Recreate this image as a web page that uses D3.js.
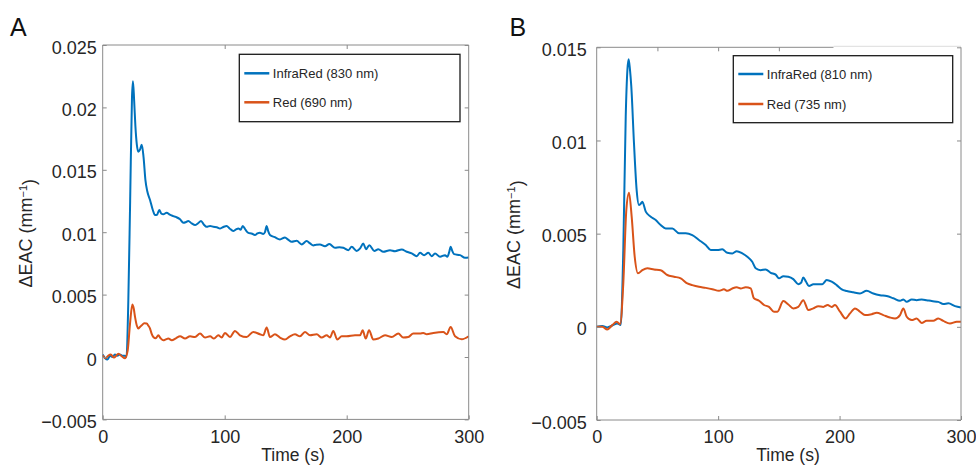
<!DOCTYPE html>
<html>
<head>
<meta charset="utf-8">
<script src="https://cdn.jsdelivr.net/npm/d3@7"></script>
<style>
  body { margin: 0; background: #fff; }
  text { font-family: "Liberation Sans", Arial, sans-serif; fill: #262626; }
</style>
</head>
<body>
<div id="chart"></div>
<script>
// ---- data (time in s, value in mm^-1) ----
const irA = [[0,0.0002],[2,-0.0001],[4,-0.0002],[6,0.0001],[8,0],[10,0.0002],[12,0.0001],[14,0.0002],[16,0.0001],[18,0.0001],[19.5,0],[21,0.0045],[22.5,0.0125],[24,0.0208],[24.8,0.0221],[25.8,0.0205],[26.8,0.0185],[28,0.0170],[29.2,0.01645],[30.5,0.0166],[32,0.0170],[33.5,0.0160],[35,0.0142],[36.5,0.0133],[38.8,0.01258],[41,0.0118],[42.9,0.01137],[44.5,0.0114],[46.4,0.01177],[48,0.0115],[49.7,0.01143],[52.4,0.01156],[55,0.0114],[57.9,0.01129],[60.5,0.0112],[63.4,0.01103],[66.1,0.01076],[68,0.0108],[70.2,0.0109],[73,0.0107],[75.7,0.01057],[78,0.0107],[80.6,0.0109],[83,0.0106],[85.2,0.01043],[88,0.0105],[90.7,0.01043],[93.5,0.0104],[96.1,0.0103],[98.5,0.0104],[101.6,0.0105],[104,0.0103],[107,0.0101],[109,0.0102],[111.2,0.0103],[113,0.0102],[114.8,0.0105],[117,0.0102],[119.4,0.00995],[122,0.0099],[124.8,0.00977],[126.8,0.0099],[128.9,0.00995],[131.6,0.00985],[133,0.0100],[134.4,0.0105],[135.6,0.0101],[137.1,0.00977],[141,0.0096],[145.3,0.00942],[149.4,0.00958],[152,0.0094],[154.9,0.00923],[159,0.00931],[163.1,0.00902],[167.2,0.00929],[170,0.0091],[172.6,0.00894],[175,0.0090],[178.1,0.00902],[182.2,0.00888],[185.8,0.00905],[190.4,0.00875],[194,0.0088],[197.2,0.00875],[201.3,0.00856],[204.1,0.00883],[208.2,0.0085],[211,0.0087],[213.6,0.0091],[215.8,0.00864],[218.5,0.00896],[222.6,0.0085],[225.9,0.00864],[230,0.00843],[235.5,0.00856],[239.6,0.00848],[245.1,0.00862],[249.2,0.00843],[253.3,0.0083],[257.4,0.00808],[260.1,0.00835],[263.4,0.00816],[266.9,0.00835],[269.7,0.00808],[272.4,0.0083],[276.5,0.00803],[280.6,0.00816],[282.5,0.00803],[284,0.0084],[285.2,0.00883],[286.5,0.0085],[288,0.00824],[292.9,0.00816],[297,0.00795],[300,0.00798]];

const redA = [[0,0.00014],[2.3,-0.0001],[4.5,0.0001],[6.6,0.0002],[9.3,-0.00005],[11,0.0001],[12.8,0.00027],[15.6,0.00006],[18.3,-0.0001],[20.5,0.00054],[22.4,0.00268],[24.3,0.0042],[25.4,0.0039],[26.5,0.00321],[28,0.0025],[29.2,0.00228],[30.5,0.0024],[32,0.00254],[34,0.0027],[36,0.00268],[37.5,0.0025],[38.8,0.00228],[40,0.0019],[41.5,0.0016],[43.5,0.0015],[45.6,0.00174],[47.5,0.0015],[49.7,0.00134],[51.5,0.0014],[53.8,0.00148],[56.6,0.00134],[60,0.0015],[63.4,0.00166],[67.5,0.00148],[71.6,0.00166],[75.7,0.0016],[79.8,0.00188],[83.9,0.00156],[88,0.00166],[91.2,0.00148],[94.8,0.00174],[97.5,0.00156],[100.2,0.00193],[104.3,0.0016],[108.4,0.00209],[112.5,0.00174],[118,0.0016],[123.4,0.00201],[128.9,0.00182],[131.6,0.00174],[134.4,0.00236],[137.1,0.0016],[141.2,0.00182],[145.3,0.00156],[149.4,0.0014],[153.5,0.00166],[157.6,0.00182],[161.7,0.00166],[165.8,0.00201],[169.9,0.00174],[175.4,0.00182],[179.5,0.00156],[183.6,0.00174],[186.3,0.00156],[189,0.00209],[192.3,0.0014],[195.9,0.00166],[200,0.00166],[206.8,0.00174],[210.9,0.00174],[213.1,0.00214],[215.6,0.00148],[218.3,0.00214],[221.8,0.0014],[225.9,0.00148],[231.4,0.00174],[236.9,0.0016],[242.3,0.00188],[246.4,0.00156],[250.5,0.0016],[254.6,0.00188],[260.1,0.00188],[262.8,0.00193],[265.6,0.00182],[271,0.00193],[279.2,0.00201],[282,0.00182],[285.2,0.00241],[288.8,0.00166],[294.3,0.00142],[300,0.00166]];

const irB = [[0,0],[4.6,0.00004],[8.7,-0.00003],[12.8,0.00007],[17,0.00018],[19.8,0.0001],[21.9,0.00412],[23.9,0.01128],[25.3,0.0138],[26.3,0.01436],[27.4,0.0138],[28.5,0.01289],[30.7,0.00985],[32.9,0.00734],[34.8,0.00654],[36.2,0.0066],[37.6,0.00671],[40.4,0.00618],[44.5,0.00591],[48.6,0.00573],[52.7,0.00546],[56.8,0.00528],[62.3,0.00528],[67.8,0.00502],[73.3,0.00502],[78.7,0.00492],[84.2,0.00466],[89.8,0.00439],[93.9,0.00412],[99.3,0.00412],[103.4,0.00416],[107.6,0.00397],[111.7,0.00394],[115.3,0.00406],[119.9,0.00394],[124,0.00376],[128.1,0.00349],[130.9,0.00314],[135,0.00304],[139.1,0.00308],[143.3,0.0029],[147.4,0.0028],[150.1,0.0026],[153.7,0.00272],[157.8,0.00269],[161.9,0.00256],[166,0.00229],[168.3,0.00236],[170.1,0.00265],[172.4,0.00242],[174.8,0.00219],[178.4,0.00228],[182.5,0.00229],[185.8,0.00229],[189.4,0.00251],[193.5,0.00242],[197.6,0.00224],[201.8,0.00201],[205.9,0.00192],[211.3,0.00185],[216.8,0.00179],[222.3,0.00193],[227.8,0.00179],[233.3,0.0017],[238.8,0.00165],[244.3,0.00153],[249.8,0.0014],[252.5,0.00147],[255.3,0.00134],[259.4,0.00147],[263.5,0.00143],[267.6,0.00147],[271.7,0.00143],[275.9,0.00138],[281.3,0.00134],[285.4,0.00122],[289.6,0.00126],[295.1,0.00111],[300,0.00104]];

const redB = [[0,0],[4.6,0],[8.7,-0.00014],[12.8,0.00009],[16.5,0.00027],[19.3,0.00014],[21.9,0.00233],[24.4,0.00627],[26.6,0.0072],[28.8,0.00591],[31.3,0.00376],[34,0.00287],[37.6,0.00304],[41.7,0.00314],[47.2,0.00308],[52.7,0.00304],[58.1,0.00278],[63.7,0.00269],[69.2,0.0026],[74.6,0.00233],[78.7,0.00224],[84.2,0.00215],[89.8,0.00209],[95.2,0.00202],[100.7,0.00193],[104.8,0.00201],[107.6,0.00193],[111.7,0.00206],[115.3,0.00212],[118.6,0.00206],[122.7,0.00212],[126.8,0.00206],[129.5,0.00153],[133.7,0.0014],[137.8,0.00117],[141.9,0.00107],[146,0.00081],[148.8,0.00081],[153.7,0.00138],[157.8,0.0012],[161.9,0.00099],[166,0.00107],[170.1,0.00143],[174.3,0.0009],[178.4,0.00099],[182.5,0.00111],[186.6,0.00107],[190.2,0.00117],[193.5,0.00107],[196.2,0.00117],[200.4,0.00081],[205,0.00045],[208.6,0.00072],[212.7,0.00099],[216.8,0.00081],[220.9,0.00063],[226.5,0.00068],[230.6,0.00075],[236,0.00063],[241.5,0.0005],[245.7,0.00045],[249.8,0.00063],[252.5,0.00099],[255.3,0.00054],[259.4,0.00036],[263.5,0.00045],[267.6,0.00021],[271.7,0.00032],[277.2,0.00032],[281.3,0.00045],[285.4,0.00032],[290.9,0.00018],[296.5,0.00027],[300,0.00027]];

const xTicks = [0, 100, 200, 300];
const yTicksA = [-0.005, 0, 0.005, 0.01, 0.015, 0.02, 0.025];
const yLabelsA = ['\u22120.005', '0', '0.005', '0.01', '0.015', '0.02', '0.025'];
const yTicksB = [-0.005, 0, 0.005, 0.01, 0.015];
const yLabelsB = ['\u22120.005', '0', '0.005', '0.01', '0.015'];
const legendA = ['InfraRed (830 nm)', 'Red (690 nm)'];
const legendB = ['InfraRed (810 nm)', 'Red (735 nm)'];

const blue = '#0072bd';
const red = '#d95319';
const axisGray = '#8a8a8a';

const svg = d3.select('#chart')
  .append('svg')
  .attr('width', 976)
  .attr('height', 467);

function drawPanel(p) {
  let x = d3.scaleLinear().domain([0, 300]).range([p.left, p.right]);
  let y = d3.scaleLinear().domain(p.yDomain).range([p.bottom, p.top]);
  let g = svg.append('g');

  // panel letter
  g.append('text')
    .attr('x', p.letterX)
    .attr('y', 35.5)
    .style('font-size', '25px')
    .style('fill', '#111')
    .text(p.letter);

  // lines
  let line = d3.line()
    .x(d => x(d[0]))
    .y(d => y(d[1]))
    .curve(d3.curveMonotoneX);

  [[p.ir, blue], [p.red, red]].forEach(s => {
    g.append('path')
      .datum(s[0])
      .attr('fill', 'none')
      .attr('stroke', s[1])
      .attr('stroke-width', 2)
      .attr('stroke-linejoin', 'round')
      .attr('d', line);
  });

  // axes with inward ticks
  let bottom = g.append('g')
    .attr('transform', `translate(0,${p.bottom})`)
    .call(d3.axisBottom(x).tickValues(xTicks).tickSizeInner(-4).tickSizeOuter(0).tickPadding(10.5));
  bottom.selectAll('text').style('font-size', '18px').style('fill', '#262626');

  let left = g.append('g')
    .attr('transform', `translate(${p.left},0)`)
    .call(d3.axisLeft(y).tickValues(p.yTicks).tickFormat((d, i) => p.yLabels[i])
      .tickSizeInner(-4).tickSizeOuter(0).tickPadding(p.yPad));
  left.selectAll('text').attr('dy', '0.45em').style('font-size', '18px').style('fill', '#262626');

  let right = g.append('g')
    .attr('transform', `translate(${p.right},0)`)
    .call(d3.axisRight(y).tickValues(p.yTicks).tickFormat('').tickSizeInner(-4).tickSizeOuter(0));

  let top = g.append('g')
    .attr('transform', `translate(0,${p.top})`)
    .call(d3.axisTop(x).tickValues(p.topTicks).tickFormat('').tickSizeInner(-4).tickSizeOuter(0));

  [bottom, left, right, top].forEach(a => {
    a.select('.domain').remove();
    a.selectAll('line').attr('stroke', axisGray);
  });

  // frame
  g.append('line').attr('x1', p.left).attr('x2', p.right).attr('y1', p.bottom).attr('y2', p.bottom).attr('stroke', axisGray);
  g.append('line').attr('x1', p.left).attr('x2', p.left).attr('y1', p.top).attr('y2', p.bottom).attr('stroke', axisGray);
  g.append('line').attr('x1', p.right).attr('x2', p.right).attr('y1', p.top).attr('y2', p.bottom).attr('stroke', axisGray);
  g.append('line').attr('x1', p.left).attr('x2', x(p.topEnd)).attr('y1', p.top).attr('y2', p.top).attr('stroke', axisGray);
  if (p.topEnd < 300) {
    g.append('line').attr('x1', x(p.topEnd)).attr('x2', p.right).attr('y1', p.top - 1).attr('y2', p.top - 1).attr('stroke', '#dcdcdc');
  }

  // axis titles
  g.append('text')
    .attr('x', p.xTitleX)
    .attr('y', 461)
    .style('text-anchor', 'middle')
    .style('font-size', '17.5px')
    .text('Time (s)');

  let yt = g.append('text')
    .attr('transform', `translate(${p.yTitleX},${(p.top + p.bottom) / 2 + 1}) rotate(-90)`)
    .style('text-anchor', 'middle')
    .style('font-size', '18px');
  yt.append('tspan').text('\u0394EAC (mm');
  yt.append('tspan').attr('dy', '-0.45em').style('font-size', '11px').text('\u22121');
  yt.append('tspan').attr('dy', '0.45em').text(')');

  // legend
  let lg = g.append('g');
  lg.append('rect')
    .attr('x', p.leg.x).attr('y', p.leg.y)
    .attr('width', p.leg.w).attr('height', p.leg.h)
    .attr('fill', '#fff').attr('stroke', '#1a1a1a').attr('stroke-width', 1.3);
  [blue, red].forEach((c, i) => {
    let ry = p.leg.rows[i];
    lg.append('line')
      .attr('x1', p.leg.x + 5).attr('x2', p.leg.x + 30)
      .attr('y1', ry).attr('y2', ry)
      .attr('stroke', c).attr('stroke-width', 2.5);
    lg.append('text')
      .attr('x', p.leg.x + 33.5).attr('y', ry)
      .attr('dy', '0.36em')
      .style('font-size', '13px')
      .text(p.legend[i]);
  });
}

drawPanel({
  letter: 'A', letterX: 10,
  left: 102.7, right: 468.7, top: 45, bottom: 419.4,
  yDomain: [-0.005, 0.025], yTicks: yTicksA, yLabels: yLabelsA, yPad: 6,
  topTicks: [100, 200], topEnd: 300,
  ir: irA, red: redA, legend: legendA,
  xTitleX: 293, yTitleX: 31.5,
  leg: { x: 239.3, y: 54.3, w: 220.7, h: 67.4, rows: [73.3, 102.3] }
});

drawPanel({
  letter: 'B', letterX: 509.5,
  left: 596.7, right: 961, top: 47.3, bottom: 420,
  yDomain: [-0.005, 0.015], yTicks: yTicksB, yLabels: yLabelsB, yPad: 10,
  topTicks: [50, 100, 150], topEnd: 195,
  ir: irB, red: redB, legend: legendB,
  xTitleX: 788, yTitleX: 520,
  leg: { x: 733.3, y: 55.7, w: 219.4, h: 67, rows: [74, 104] }
});
</script>
</body>
</html>
